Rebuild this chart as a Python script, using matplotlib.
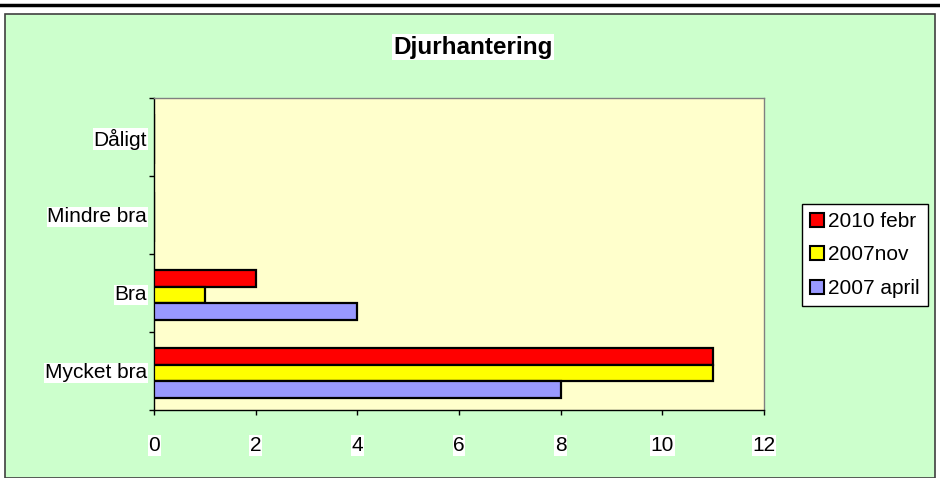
import matplotlib
matplotlib.use("Agg")
import matplotlib.pyplot as plt
from matplotlib.patches import Rectangle, Patch
from matplotlib.lines import Line2D
import numpy as np

plt.rcParams['font.family'] = ['Liberation Sans', 'DejaVu Sans']

categories = ["Mycket bra", "Bra", "Mindre bra", "Dåligt"]
series_names = ["2010 febr", "2007nov", "2007 april"]
v_2010_febr = [11, 2, 0, 0]
v_2007_nov = [11, 1, 0, 0]
v_2007_april = [8, 4, 0, 0]
colors = ["#FF0000", "#FFFF00", "#9999FF"]
xticks = [0, 2, 4, 6, 8, 10, 12]
title = "Djurhantering"

W, H = 940, 478
PX = 72 / 100  # points per pixel
fig = plt.figure(figsize=(W / 100, H / 100), dpi=100)
fig.patch.set_facecolor("white")

# outer chart area
fig.patches.append(Rectangle((5 / W, 0), 930 / W, (H - 14) / H, transform=fig.transFigure,
                             facecolor="#CCFFCC", edgecolor="#404040", linewidth=1.2, zorder=-1))
fig.lines.append(Line2D([0, 1], [1 - 5 / H, 1 - 5 / H], transform=fig.transFigure,
                        color="black", linewidth=2.5, zorder=-1))

ax = fig.add_axes([154 / W, 1 - 410 / H, 610 / W, 312 / H])
ax.set_facecolor("#FFFFCC")

y = np.arange(len(categories))
h = 0.215
series = [v_2010_febr, v_2007_nov, v_2007_april]
offsets = [h - 0.025, -0.025, -h - 0.025]
for vals, off, c in zip(series, offsets, colors):
    ax.barh(y + off, vals, height=h, color=c, edgecolor="black", linewidth=1.6, zorder=3)

FS = 15
ax.set_xlim(0, 12)
ax.set_ylim(-0.5, len(categories) - 0.5)
ax.set_xticks(xticks)
ax.set_xticklabels([str(t) for t in xticks], fontsize=FS)
for lab in ax.get_xticklabels():
    lab.set_bbox(dict(facecolor="white", edgecolor="none", pad=0.5))
ax.tick_params(axis="x", direction="out", length=5 * PX, width=1, pad=21 * PX, color="black")
ax.set_yticks(y)
ax.set_yticklabels(categories, fontsize=FS)
for lab in ax.get_yticklabels():
    lab.set_bbox(dict(facecolor="white", edgecolor="none", pad=0.5))
ax.tick_params(axis="y", length=0, pad=7 * PX)
ax.set_yticks(np.arange(-0.5, len(categories)), minor=True)
ax.tick_params(axis="y", which="minor", direction="out", length=5 * PX, width=1, color="black")

for s in ["top", "right"]:
    ax.spines[s].set_color("#808080")
    ax.spines[s].set_linewidth(1)
for s in ["left", "bottom"]:
    ax.spines[s].set_color("black")
    ax.spines[s].set_linewidth(1)

fig.text(473 / W, 1 - 47 / H, title, ha="center", va="center", fontsize=17.5, fontweight="bold",
         bbox=dict(facecolor="white", edgecolor="none", pad=1))

handles = [Patch(facecolor=c, edgecolor="black", linewidth=1.5) for c in colors]
leg = fig.legend(handles, series_names, loc="center", bbox_to_anchor=(865 / W, 1 - 255 / H),
                 fontsize=FS, frameon=True, fancybox=False, edgecolor="black",
                 handlelength=0.65, handleheight=0.65, handletextpad=0.2,
                 labelspacing=0.7, borderpad=0.4, borderaxespad=0, framealpha=1)
leg.get_frame().set_linewidth(1)
leg.get_frame().set_facecolor("white")

fig.savefig("out.png", dpi=100)
